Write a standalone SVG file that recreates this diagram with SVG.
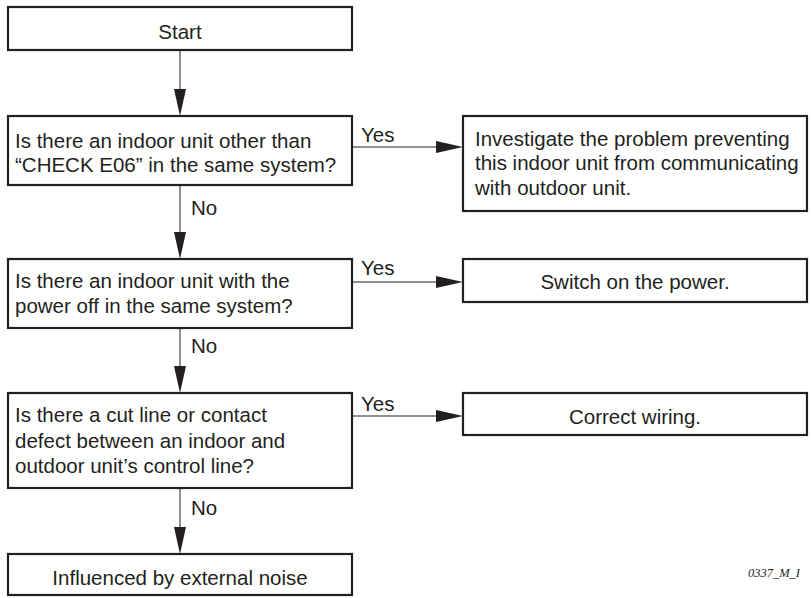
<svg xmlns="http://www.w3.org/2000/svg" width="811" height="598" viewBox="0 0 811 598">
<style>
.box{fill:#fff;stroke:#231f20;stroke-width:2.2}
.t{font-family:"Liberation Sans",Arial,sans-serif;font-size:20.5px;fill:#231f20}
.c{text-anchor:middle}
.ln{stroke:#231f20;stroke-width:1;fill:none}
.ah{fill:#231f20}
.id{font-family:"Liberation Serif","Times New Roman",serif;font-style:italic;font-size:12.5px;fill:#231f20}
</style>
<rect width="811" height="598" fill="#fff"/>
<g id="connectors">
<line class="ln" x1="180" y1="50" x2="180" y2="92"/><polygon class="ah" points="174,89 186,89 180,116"/>
<line class="ln" x1="180" y1="185" x2="180" y2="235"/><polygon class="ah" points="174,232 186,232 180,259"/>
<line class="ln" x1="180" y1="328" x2="180" y2="370"/><polygon class="ah" points="174,366 186,366 180,393"/>
<line class="ln" x1="180" y1="488" x2="180" y2="530"/><polygon class="ah" points="174,527 186,527 180,554"/>
<line class="ln" x1="352" y1="147" x2="440" y2="147"/><polygon class="ah" points="436,141 436,153 463,147"/>
<line class="ln" x1="352" y1="282" x2="440" y2="282"/><polygon class="ah" points="436,276 436,288 463,282"/>
<line class="ln" x1="352" y1="416" x2="440" y2="416"/><polygon class="ah" points="436,410 436,422 463,416"/>
<text class="t" x="361" y="142">Yes</text>
<text class="t" x="361" y="275">Yes</text>
<text class="t" x="361" y="411">Yes</text>
<text class="t" x="191" y="215">No</text>
<text class="t" x="191" y="353">No</text>
<text class="t" x="191" y="515">No</text>
</g>
<g id="start"><rect class="box" x="8" y="7" width="344" height="43"/><text class="t c" x="180" y="39">Start</text></g>
<g id="q1"><rect class="box" x="8" y="116" width="344" height="69"/>
<text class="t" x="15" y="148">Is there an indoor unit other than</text>
<text class="t" x="15" y="172">“CHECK E06” in the same system?</text></g>
<g id="a1"><rect class="box" x="463" y="116" width="344" height="95"/>
<text class="t" x="475" y="146">Investigate the problem preventing</text>
<text class="t" x="475" y="170">this indoor unit from communicating</text>
<text class="t" x="475" y="195">with outdoor unit.</text></g>
<g id="q2"><rect class="box" x="8" y="259" width="344" height="69"/>
<text class="t" x="15" y="288">Is there an indoor unit with the</text>
<text class="t" x="15" y="313">power off in the same system?</text></g>
<g id="a2"><rect class="box" x="463" y="259" width="344" height="43"/><text class="t c" x="635" y="289">Switch on the power.</text></g>
<g id="q3"><rect class="box" x="8" y="393" width="344" height="95"/>
<text class="t" x="15" y="422">Is there a cut line or contact</text>
<text class="t" x="15" y="448">defect between an indoor and</text>
<text class="t" x="15" y="473">outdoor unit’s control line?</text></g>
<g id="a3"><rect class="box" x="463" y="393" width="344" height="42"/><text class="t c" x="635" y="424">Correct wiring.</text></g>
<g id="end"><rect class="box" x="8" y="554" width="344" height="41"/><text class="t c" x="180" y="585">Influenced by external noise</text></g>
<text class="id" x="800" y="577" text-anchor="end">0337_M_I</text>
</svg>
